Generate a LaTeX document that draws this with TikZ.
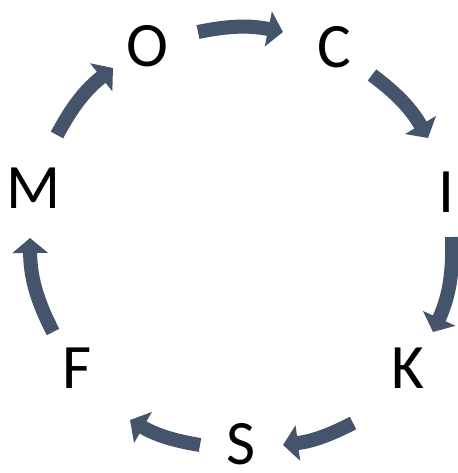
\documentclass[tikz,border=0pt]{standalone}
\usepackage{fontspec}
\setmainfont{Carlito}
\usepackage{tikz}
\usepackage{xcolor}
\usetikzlibrary{positioning, arrows.meta}

\definecolor{slate}{HTML}{44546A}

\begin{document}
\begin{tikzpicture}[letter/.style={inner sep=0pt, font=\fontsize{36}{40}\selectfont},
        flow/.style={slate, line width=8pt, -{Triangle[width=0.7cm, length=0.3cm]}}]
            \useasboundingbox (-4.82, -4.66) rectangle (4.34, 4.80);
            \node[letter] (O) at (-1.88, 3.88) {O};
            \node[letter] (C) at (1.86, 3.86) {C};
            \node[letter] (I) at (4.10, 0.96) {I};
            \node[letter] (K) at (3.34, -2.56) {K};
            \node[letter] (S) at (0, -4.08) {S};
            \node[letter] (F) at (-3.28, -2.56) {F};
            \node[letter] (M) at (-4.14, 1.04) {M};

            \coordinate (o1) at (-0.86, 4.16);
            \coordinate (c0) at (0.84, 4.16);
            \coordinate (c1) at (2.62, 3.30);
            \coordinate (i0) at (3.74, 2.04);
            \coordinate (i1) at (4.22, 0.06);
            \coordinate (k0) at (3.84, -1.84);
            \coordinate (k1) at (2.24, -3.66);
            \coordinate (s0) at (0.84, -4.10);
            \coordinate (s1) at (-0.82, -4.10);
            \coordinate (f0) at (-2.22, -3.60);
            \coordinate (f1) at (-3.76, -1.84);
            \coordinate (m0) at (-4.22, 0.04);
            \coordinate (m1) at (-3.68, 2.10);
            \coordinate (o0) at (-2.56, 3.44);

            \draw[flow] (o1) to[bend left=11.6] (c0);
            \draw[flow] (c1) to[bend left=11.5] (i0);
            \draw[flow] (i1) to[bend left=13.2] (k0);
            \draw[flow] (k1) to[bend left=10] (s0);
            \draw[flow] (s1) to[bend left=10.2] (f0);
            \draw[flow] (f1) to[bend left=13.3] (m0);
            \draw[flow] (m1) to[bend left=11.8] (o0);
        \end{tikzpicture}
\end{document}
